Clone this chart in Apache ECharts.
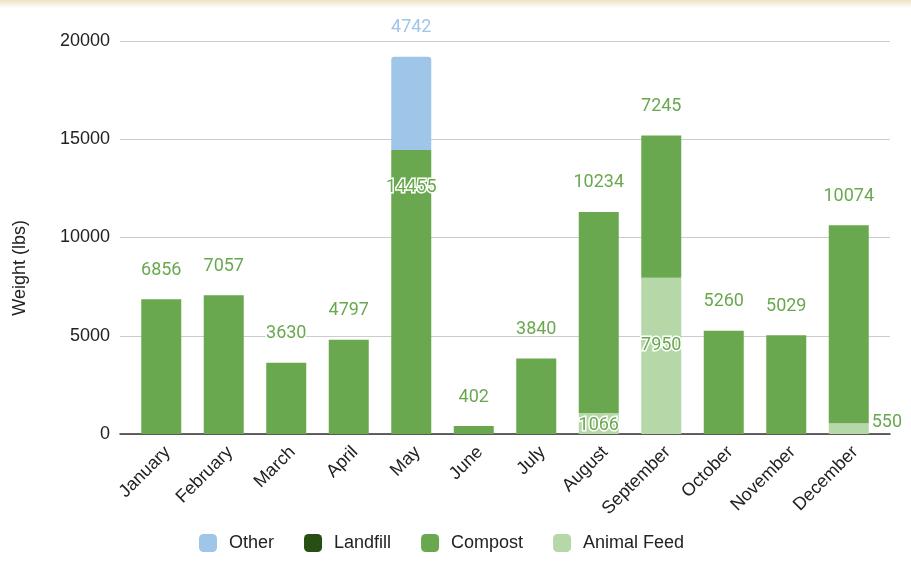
<!DOCTYPE html>
<html>
<head>
<meta charset="utf-8">
<script src="https://cdn.jsdelivr.net/npm/echarts@6/dist/echarts.min.js"></script>
<style>html,body{margin:0;padding:0;background:#fff}#c{width:911px;height:582px}</style>
</head>
<body>
<div id="c"></div>
<script>
const months = ['January','February','March','April','May','June','July','August','September','October','November','December'];
const otherVals = [null,null,null,null,4742,null,null,null,null,null,null,null];
const landfillVals = [null,null,null,null,null,null,null,null,null,null,null,null];
const compostVals = [6856,7057,3630,4797,14455,402,3840,10234,7245,5260,5029,10074];
const feedVals = [null,null,null,null,null,null,null,1066,7950,null,null,550];
const yTicks = {min:0, max:20000, interval:5000};

const green = '#6aa84f';
const font = '"Liberation Sans", Arial';
const lblBase = {show:true, fontFamily:'Roboto', fontSize:18, color:green, textBorderColor:'#fff', textBorderWidth:3};

const compostData = compostVals.map((v,i)=>{
  if (i===4) return {value:v, label:Object.assign({}, lblBase, {position:'insideTop', distance:29})};
  return {value:v};
});
const feedData = feedVals.map((v,i)=>{
  if (v==null) return v;
  if (i===8) return {value:v, label:Object.assign({}, lblBase, {position:'insideBottom', distance:80})};
  if (i===11) return {value:v, label:Object.assign({}, lblBase, {position:'right', distance:3, offset:[0,-6]})};
  return {value:v, label:Object.assign({}, lblBase, {position:'insideBottom', distance:0})};
});

const chart = echarts.init(document.getElementById('c'), null, {renderer:'canvas'});
chart.setOption({
  animation:false,
  backgroundColor:'#fff',
  graphic:[
    {type:'rect', left:0, top:0, shape:{width:911, height:8}, style:{fill:new echarts.graphic.LinearGradient(0,0,0,1,[{offset:0,color:'#efe1c3'},{offset:1,color:'#ffffff'}])}},
    {type:'text', left:11, top:220, rotation:Math.PI/2, style:{text:'Weight (lbs)', font:'18px "Liberation Sans", Arial', fill:'#222'}}
  ],
  legend:{
    data:['Other','Landfill','Compost','Animal Feed'],
    left:194, top:529, itemWidth:18, itemHeight:18, itemGap:30, icon:'roundRect',
    textStyle:{fontFamily:font, fontSize:18, color:'#222', padding:[0,0,0,7]}
  },
  grid:[
    {left:130, right:31, top:41, bottom:148},
    {left:120, right:21, top:41, bottom:148}
  ],
  xAxis:[
    {
      type:'category', data:months, gridIndex:0,
      axisLine:{show:false},
      axisTick:{show:false},
      axisLabel:{rotate:45, interval:0, fontFamily:font, fontSize:18, color:'#222', margin:9, verticalAlign:'top'}
    },
    {
      type:'value', gridIndex:1, min:0, max:1,
      axisLine:{show:true, onZero:false, lineStyle:{color:'#333', width:1.5}},
      axisTick:{show:false}, axisLabel:{show:false}, splitLine:{show:false}
    }
  ],
  yAxis:[
    {
      type:'value', gridIndex:0, min:yTicks.min, max:yTicks.max, interval:yTicks.interval,
      axisLine:{show:false}, axisTick:{show:false}, splitLine:{show:false}, axisLabel:{show:false}
    },
    {
      type:'value', gridIndex:1, min:yTicks.min, max:yTicks.max, interval:yTicks.interval,
      axisLine:{show:false}, axisTick:{show:false},
      splitLine:{lineStyle:{color:'#cccccc'}},
      axisLabel:{fontFamily:font, fontSize:18, color:'#222', margin:10, formatter:v=>String(v)}
    }
  ],
  series:[
    {name:'Animal Feed', type:'bar', stack:'s', barWidth:40, itemStyle:{color:'#b6d7a8'}, data:feedData},
    {name:'Compost', type:'bar', stack:'s', barWidth:40, itemStyle:{color:green},
      label:Object.assign({}, lblBase, {position:'top', distance:20}), data:compostData},
    {name:'Landfill', type:'bar', stack:'s', barWidth:40, itemStyle:{color:'#274e13'}, data:landfillVals},
    {name:'Other', type:'bar', stack:'s', barWidth:40, itemStyle:{color:'#9fc5e8', borderRadius:[3,3,0,0]},
      label:Object.assign({}, lblBase, {position:'top', distance:20, color:'#9fc5e8'}), data:otherVals}
  ]
});
</script>
</body>
</html>
